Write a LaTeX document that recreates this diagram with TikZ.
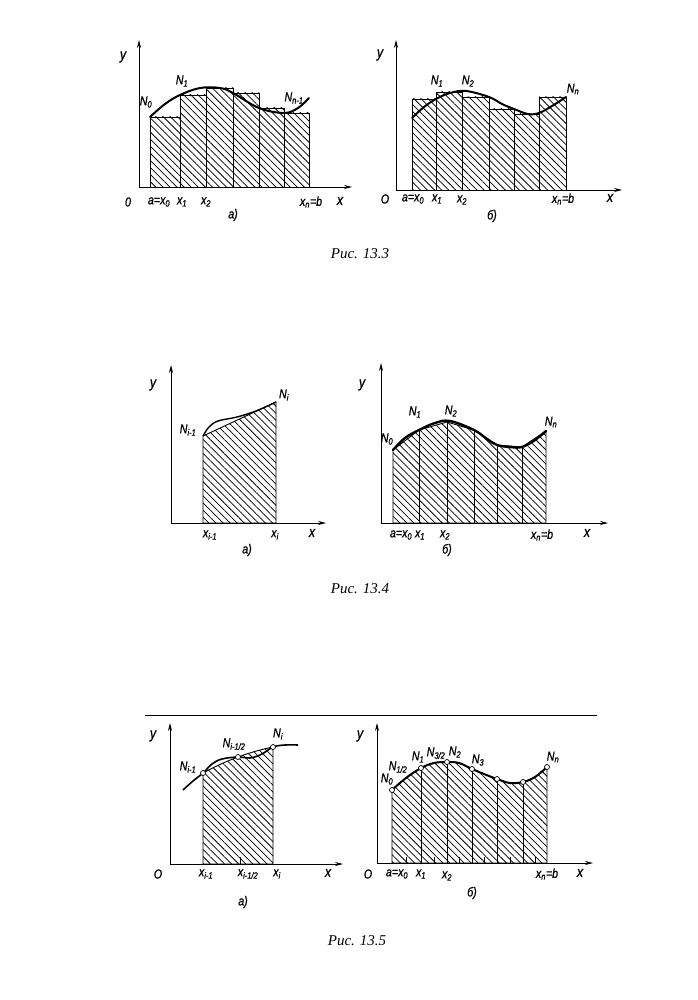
\documentclass[tikz,border=0pt]{standalone}
\usepackage{fontspec}
\setmainfont{Liberation Serif}
\setsansfont{Liberation Sans}[FakeStretch=0.82, FakeBold=0.8]
\usetikzlibrary{arrows.meta,patterns.meta}

\tikzset{
  axis/.style={-{Stealth[length=8pt,width=4pt]}, line width=0.8pt},
  strip/.style={draw, line width=0.9pt, pattern={Lines[angle=-45,distance=5pt,line width=0.75pt]}},
  graph/.style={line width=2pt, line join=round, line cap=round},
  lbl/.style={font=\sffamily\itshape\fontsize{13}{13}\selectfont, inner sep=0pt},
  axlbl/.style={lbl, font=\sffamily\itshape\fontsize{15}{15}\selectfont},
  knot/.style={circle, draw, fill=white, inner sep=0pt, minimum size=5pt, line width=0.7pt},
  figcap/.style={font=\itshape\fontsize{15}{15}\selectfont, inner sep=0pt}
}
\newcommand{\sbs}[1]{\textsubscript{#1}}

\begin{document}
\begin{tikzpicture}[x=1pt,y=-1pt]
  \useasboundingbox[fill=white] (0,0) rectangle (697,1000);

  % ---------- Fig. 13.3 a)
  \coordinate (oA) at (139,187);
  \foreach \l/\r/\t in {150/180/117, 180/206/95, 206/233/88, 233/259/93, 259/284/108, 284/309/113}
    \draw[strip] (\l,187) rectangle (\r,\t);
  \draw[graph] plot[smooth, tension=0.6] coordinates {(150,117) (165,104) (180,95) (200,88) (220,88) (233,93) (259,108) (284,113) (298,108) (309,98)};
  \draw[axis] (oA) -- (139,40);
  \draw[axis] (oA) -- (352,187);
  \node[axlbl] (yA) at (123,57) {y};
  \node[lbl] (N0A) at (146,102) {N\sbs{0}};
  \node[lbl] (N1A) at (182,81) {N\sbs{1}};
  \node[lbl] (NnA) at (294,98) {N\sbs{n-1}};
  \node[lbl] (OA) at (128,202) {0};
  \node[lbl] (aA) at (159,202) {a=x\sbs{0}};
  \node[lbl] (x1A) at (182,202) {x\sbs{1}};
  \node[lbl] (x2A) at (206,202) {x\sbs{2}};
  \node[lbl] (xnA) at (311,202) {x\sbs{n}=b};
  \node[axlbl] (xA) at (340,201) {x};
  \node[lbl] (capA) at (233,215) {a)};

  % ---------- Fig. 13.3 b)
  \coordinate (oB) at (396,190);
  \foreach \l/\r/\t in {412/436/99, 436/462/92, 462/489/97, 489/514/109, 514/539/114, 539/566/97}
    \draw[strip] (\l,190) rectangle (\r,\t);
  \draw[graph] plot[smooth, tension=0.6] coordinates {(412,118) (424,107) (436,99) (450,93) (466,91) (489,97) (502,104) (514,109) (528,114) (539,113) (552,106) (566,97)};
  \draw[axis] (oB) -- (396,40);
  \draw[axis] (oB) -- (622,190);
  \node[axlbl] (yB) at (380,55) {y};
  \node[lbl] (N1B) at (437,81) {N\sbs{1}};
  \node[lbl] (N2B) at (468,81) {N\sbs{2}};
  \node[lbl] (NnB) at (573,89) {N\sbs{n}};
  \node[lbl] (OB) at (385,199) {O};
  \node[lbl] (aB) at (413,199) {a=x\sbs{0}};
  \node[lbl] (x1B) at (437,199) {x\sbs{1}};
  \node[lbl] (x2B) at (462,200) {x\sbs{2}};
  \node[lbl] (xnB) at (563,199) {x\sbs{n}=b};
  \node[axlbl] (xB) at (610,198) {x};
  \node[lbl] (capB) at (492,216) {б)};

  \node[figcap] (cap133) at (360,254) {Рис. 13.3};

  % ---------- Fig. 13.4 a)
  \coordinate (oC) at (171,523);
  \draw[strip] (203,523) -- (203,436) -- (276,402) -- (276,523) -- cycle;
  \draw[line width=1.4pt] plot[smooth, tension=0.6] coordinates {(203,436) (209,427) (218,421) (237,417) (256,411) (276,402)};
  \draw[axis] (oC) -- (171,365);
  \draw[axis] (oC) -- (326,523);
  \node[axlbl] (yC) at (153,385) {y};
  \node[lbl] (NiC) at (284,395) {N\sbs{i}};
  \node[lbl] (Ni1C) at (188,430) {N\sbs{i-1}};
  \node[lbl] (xi1C) at (210,535) {x\sbs{i-1}};
  \node[lbl] (xiC) at (275,535) {x\sbs{i}};
  \node[axlbl] (xC) at (312,533) {x};
  \node[lbl] (capC) at (247,550) {a)};

  % ---------- Fig. 13.4 b)
  \coordinate (oD) at (381,523);
  \draw[strip] (393,523) -- (393,450) -- (419,430) -- (447,422) -- (474,430) -- (497,445) -- (522,447) -- (546,431) -- (546,523) -- cycle;
  \foreach \x/\t in {419/430, 447/422, 474/430, 497/445, 522/447}
    \draw[line width=0.9pt] (\x,523) -- (\x,\t);
  \draw[graph, line width=2.4pt] plot[smooth, tension=0.6] coordinates {(393,450) (405,438) (419,430) (435,423) (450,421) (474,430) (487,439) (497,445) (510,447) (522,447) (535,440) (546,431)};
  \draw[axis] (oD) -- (381,363);
  \draw[axis] (oD) -- (608,523);
  \node[axlbl] (yD) at (362,385) {y};
  \node[lbl] (N0D) at (387,439) {N\sbs{0}};
  \node[lbl] (N1D) at (415,412) {N\sbs{1}};
  \node[lbl] (N2D) at (451,411) {N\sbs{2}};
  \node[lbl] (NnD) at (551,422) {N\sbs{n}};
  \node[lbl] (aD) at (401,535) {a=x\sbs{0}};
  \node[lbl] (x1D) at (420,535) {x\sbs{1}};
  \node[lbl] (x2D) at (445,535) {x\sbs{2}};
  \node[lbl] (xnD) at (542,535) {x\sbs{n}=b};
  \node[axlbl] (xD) at (587,533) {x};
  \node[lbl] (capD) at (447,550) {б)};

  \node[figcap] (cap134) at (360,589) {Рис. 13.4};

  % ---------- rule
  \draw[line width=0.8pt] (145,715) -- (597,715);

  % ---------- Fig. 13.5 a)
  \coordinate (oE) at (170,864);
  \draw[strip] (203,864) -- (203,773) -- plot[domain=-1:1, samples=20] ({238+35*\x},{757-13*\x+3*\x*\x}) -- (273,864) -- cycle;
  \draw[line width=1.6pt] plot[smooth, tension=0.6] coordinates {(183,790) (193,781) (203,773) (212,764) (222,759) (238,757) (250,758) (262,754) (273,747) (285,745) (298,745)};
  \draw[line width=0.8pt] (240,864) -- (240,857);
  \node[knot] (kE1) at (203,773) {};
  \node[knot] (kE2) at (238,757) {};
  \node[knot] (kE3) at (273,747) {};
  \draw[axis] (oE) -- (170,723);
  \draw[axis] (oE) -- (343,864);
  \node[axlbl] (yE) at (153,736) {y};
  \node[lbl] (NiE) at (278,734) {N\sbs{i}};
  \node[lbl] (NhE) at (234,744) {N\sbs{i-1/2}};
  \node[lbl] (Ni1E) at (188,767) {N\sbs{i-1}};
  \node[lbl] (OE) at (158,874) {O};
  \node[lbl] (xi1E) at (206,874) {x\sbs{i-1}};
  \node[lbl] (xhE) at (248,874) {x\sbs{i-1/2}};
  \node[lbl] (xiE) at (277,874) {x\sbs{i}};
  \node[axlbl] (xE) at (328,873) {x};
  \node[lbl] (capE) at (243,902) {a)};

  % ---------- Fig. 13.5 b)
  \coordinate (oF) at (377,863);
  \draw[strip] (392,863) -- plot[smooth, tension=0.6] coordinates {(392,790) (406,778) (421,768) (434,763) (447,762) (459,763) (472,769) (484,774) (497,779) (510,783) (523,782) (535,777) (547,767)} -- (547,863) -- cycle;
  \foreach \x/\t in {421/768, 447/762, 472/769, 497/779, 523/782}
    \draw[line width=0.9pt] (\x,863) -- (\x,\t);
  \foreach \x in {406,434,459,484,510,535}
    \draw[line width=0.8pt] (\x,863) -- (\x,857);
  \draw[graph] plot[smooth, tension=0.6] coordinates {(392,790) (406,778) (421,768) (434,763) (447,762) (459,763) (472,769) (484,774) (497,779) (510,783) (523,782) (535,777) (547,767)};
  \foreach \x/\t [count=\k] in {392/790, 421/768, 447/762, 472/769, 497/779, 523/782, 547/767}
    \node[knot] (kF\k) at (\x,\t) {};
  \draw[axis] (oF) -- (377,723);
  \draw[axis] (oF) -- (593,863);
  \node[axlbl] (yF) at (360,736) {y};
  \node[lbl] (N0F) at (387,779) {N\sbs{0}};
  \node[lbl] (NhF) at (398,767) {N\sbs{1/2}};
  \node[lbl] (N1F) at (418,757) {N\sbs{1}};
  \node[lbl] (N32F) at (436,753) {N\sbs{3/2}};
  \node[lbl] (N2F) at (455,752) {N\sbs{2}};
  \node[lbl] (N3F) at (478,760) {N\sbs{3}};
  \node[lbl] (NnF) at (553,757) {N\sbs{n}};
  \node[lbl] (OF) at (368,874) {O};
  \node[lbl] (aF) at (397,874) {a=x\sbs{0}};
  \node[lbl] (x1F) at (421,874) {x\sbs{1}};
  \node[lbl] (x2F) at (447,876) {x\sbs{2}};
  \node[lbl] (xnF) at (547,874) {x\sbs{n}=b};
  \node[axlbl] (xF) at (580,873) {x};
  \node[lbl] (capF) at (472,893) {б)};

  \node[figcap] (cap135) at (357,941) {Рис. 13.5};
\end{tikzpicture}
\end{document}
